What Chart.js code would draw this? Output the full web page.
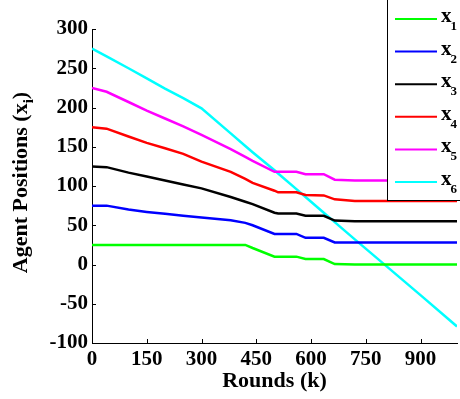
<!DOCTYPE html>
<html>
<head>
<meta charset="utf-8">
<script src="https://cdn.jsdelivr.net/npm/chart.js@4/dist/chart.umd.min.js"></script>
<style>
  html, body { margin: 0; padding: 0; background: #fff; }
  #wrap { width: 460px; height: 399px; position: relative; }
</style>
</head>
<body>
<div id="wrap"><canvas id="c" width="460" height="399"></canvas></div>
<script>
// ---- data ----
const rounds = [0, 40, 100, 150, 200, 250, 300, 380, 420, 440, 500, 510, 560, 585, 635, 665, 720, 800, 900, 1000];
const x1 = [25, 25, 25, 25, 25, 25, 25, 25, 25, 21, 10, 10, 10, 7, 7, 0.5, 0, 0, 0, 0];
const x2 = [75, 75, 70, 67, 64.5, 62, 60, 56.5, 53, 50, 39, 39, 39, 34, 34, 28, 28, 28, 28, 28];
const x3 = [125, 124, 117, 112, 107, 102, 97, 86, 80, 77, 66, 65, 65, 62, 62, 56, 55, 55, 55, 55];
const x4 = [175, 173, 163, 155, 148, 141, 131, 118, 109, 104, 94, 92, 92, 88.5, 88, 83, 81, 81, 81, 81];
const x5 = [225, 220, 207, 196, 186, 176, 165, 147, 137, 132, 118, 118, 118, 115, 115, 108, 107, 107, 107, 107];
const x6 = [275, 265, 250, 237, 224, 212, 199, 167, 151, 143, 120, 116, 96, 86, 66, 54, 32, 0.5, -39, -79];
const seriesNames = ['x1', 'x2', 'x3', 'x4', 'x5', 'x6'];
const seriesSubs = ['1', '2', '3', '4', '5', '6'];
const seriesColors = ['#00ff00', '#0000ff', '#000000', '#ff0000', '#ff00ff', '#00ffff'];
const xTicks = [0, 150, 300, 450, 600, 750, 900];
const yTicks = [-100, -50, 0, 50, 100, 150, 200, 250, 300];
const xTitle = 'Rounds (k)';
const yTitleMain = 'Agent Positions (x';
const yTitleSub = 'i';
const yTitleEnd = ')';

const FONT = "'Liberation Serif', 'Times New Roman', serif";
const allSeries = [x1, x2, x3, x4, x5, x6];

const datasets = allSeries.map((vals, i) => ({
  label: seriesNames[i],
  data: rounds.map((r, j) => ({ x: r, y: vals[j] })),
  borderColor: seriesColors[i],
  backgroundColor: seriesColors[i],
  borderWidth: 2.5,
  pointRadius: 0,
  tension: 0,
  fill: false
}));

const decorPlugin = {
  id: 'decor',
  afterDraw(chart) {
    const ctx = chart.ctx;
    const xs = chart.scales.x, ys = chart.scales.y;
    const area = chart.chartArea;
    ctx.save();
    // inward ticks
    ctx.strokeStyle = '#000';
    ctx.lineWidth = 1;
    ctx.beginPath();
    xs.ticks.forEach(t => {
      const px = Math.round(xs.getPixelForValue(t.value)) + 0.5;
      ctx.moveTo(px, area.bottom);
      ctx.lineTo(px, area.bottom - 4);
    });
    ys.ticks.forEach(t => {
      const py = Math.round(ys.getPixelForValue(t.value)) + 0.5;
      ctx.moveTo(area.left, py);
      ctx.lineTo(area.left + 4, py);
    });
    ctx.stroke();

    // y title with subscript
    const bigFont = 'bold 22px ' + FONT;
    const subFont = 'bold 15px ' + FONT;
    ctx.font = bigFont;
    const w1 = ctx.measureText(yTitleMain).width;
    const w3 = ctx.measureText(yTitleEnd).width;
    ctx.font = subFont;
    const w2 = ctx.measureText(yTitleSub).width;
    const W = w1 + w2 + w3;
    ctx.translate(27, 182.5);
    ctx.rotate(-Math.PI / 2);
    ctx.fillStyle = '#000';
    ctx.textBaseline = 'alphabetic';
    ctx.textAlign = 'left';
    let cx = -W / 2;
    ctx.font = bigFont;
    ctx.fillText(yTitleMain, cx, 0);
    cx += w1;
    ctx.font = subFont;
    ctx.fillText(yTitleSub, cx, 6);
    cx += w2;
    ctx.font = bigFont;
    ctx.fillText(yTitleEnd, cx, 0);
    ctx.restore();

    // legend box
    ctx.save();
    ctx.fillStyle = '#fff';
    ctx.fillRect(387.5, -2, 80, 202.5);
    ctx.strokeStyle = '#000';
    ctx.lineWidth = 1;
    ctx.strokeRect(387.5, -2, 80, 202.5);
    chart.data.datasets.forEach((ds, i) => {
      const ly = 19 + i * 32.6;
      ctx.strokeStyle = ds.borderColor;
      ctx.lineWidth = 2;
      ctx.beginPath();
      ctx.moveTo(395, ly);
      ctx.lineTo(437, ly);
      ctx.stroke();
      ctx.fillStyle = '#000';
      ctx.textAlign = 'left';
      ctx.textBaseline = 'alphabetic';
      ctx.font = 'bold 21px ' + FONT;
      ctx.fillText('x', 441, ly + 3);
      ctx.font = 'bold 13px ' + FONT;
      ctx.fillText(seriesSubs[i], 450.5, ly + 11);
    });
    ctx.restore();
  }
};

new Chart(document.getElementById('c'), {
  type: 'line',
  data: { datasets },
  options: {
    responsive: false,
    animation: false,
    events: [],
    layout: { padding: { left: 0, right: 3, top: 29, bottom: 0 } },
    plugins: { legend: { display: false }, tooltip: { enabled: false }, title: { display: false } },
    scales: {
      x: {
        type: 'linear',
        min: 0,
        max: 1000,
        afterBuildTicks: s => { s.ticks = xTicks.map(v => ({ value: v })); },
        afterFit: s => { s.height = 56; },
        grid: { display: false, drawTicks: false },
        border: { display: true, color: '#000', width: 1 },
        ticks: { color: '#000', padding: 4, maxRotation: 0, autoSkip: false, font: { family: FONT, size: 21, weight: 'bold' } },
        title: { display: true, text: xTitle, color: '#000', padding: { top: 0, bottom: 4 }, font: { family: FONT, size: 22, weight: 'bold' } }
      },
      y: {
        type: 'linear',
        min: -100,
        max: 300,
        afterBuildTicks: s => { s.ticks = yTicks.map(v => ({ value: v })); },
        afterFit: s => { s.width = 92; },
        grid: { display: false, drawTicks: false },
        border: { display: true, color: '#000', width: 1 },
        ticks: { color: '#000', padding: 4, autoSkip: false, font: { family: FONT, size: 21, weight: 'bold' } }
      }
    }
  },
  plugins: [decorPlugin]
});
</script>
</body>
</html>
